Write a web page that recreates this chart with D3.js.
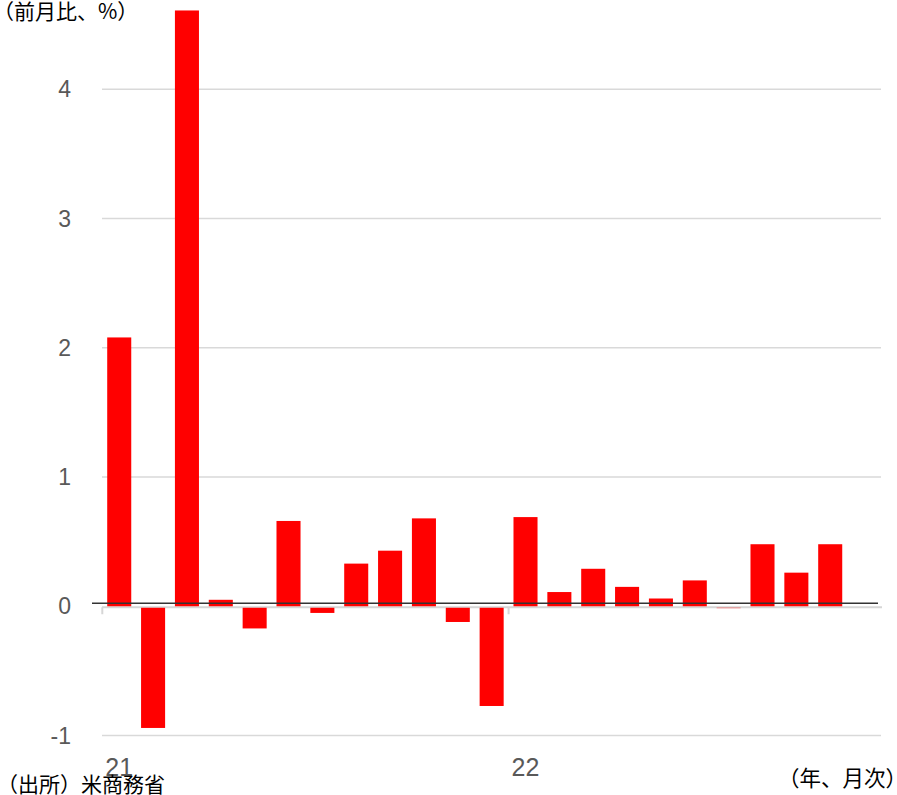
<!DOCTYPE html>
<html>
<head>
<meta charset="utf-8">
<script src="https://cdn.jsdelivr.net/npm/d3@7"></script>
<style>
  body { margin: 0; background: #fff; }
  svg { display: block; }
</style>
</head>
<body>
<svg id="chart"></svg>
<script>
// 月次カテゴリ (2021年1月〜2022年11月)
let months = ["2021-01","2021-02","2021-03","2021-04","2021-05","2021-06","2021-07","2021-08","2021-09","2021-10","2021-11","2021-12",
              "2022-01","2022-02","2022-03","2022-04","2022-05","2022-06","2022-07","2022-08","2022-09","2022-10","2022-11"];
// 前月比 (%)
let values = [2.08, -0.93, 4.61, 0.05, -0.16, 0.66, -0.04, 0.33, 0.43, 0.68, -0.11, -0.76,
              0.69, 0.11, 0.29, 0.15, 0.06, 0.20, -0.003, 0.48, 0.26, 0.48, null];
// 目盛り
let yTicks = [-1, 0, 1, 2, 3, 4];
let yearTicks = ["2021-01", "2022-01"];
let yearLabels = ["21", "22"];

let width = 897, height = 795;
let jpFont = "'Noto Sans CJK JP', 'Noto Sans', sans-serif";
let numFont = "'Liberation Sans', Arial, sans-serif";

let svg = d3.select("#chart")
    .attr("width", width)
    .attr("height", height);

let x = d3.scaleBand()
    .domain(months)
    .range([102.3, 881])
    .paddingInner(0.29)
    .paddingOuter(0.145);

let y = d3.scaleLinear()
    .domain([-1, 4])
    .range([735.5, 89.3]);

// グリッド線
svg.append("g")
    .selectAll("line")
    .data(yTicks.filter(d => d !== 0))
    .enter().append("line")
    .attr("x1", 102).attr("x2", 881)
    .attr("y1", d => y(d)).attr("y2", d => y(d))
    .attr("stroke", "#d9d9d9")
    .attr("stroke-width", 1.5);

// y軸ラベル
svg.append("g")
    .selectAll("text")
    .data(yTicks)
    .enter().append("text")
    .attr("x", 71)
    .attr("y", d => y(d))
    .attr("dy", "0.35em")
    .attr("text-anchor", "end")
    .attr("font-family", numFont)
    .attr("font-size", 23)
    .attr("fill", "#595959")
    .text(d => d);

// x軸 (0の位置)
svg.append("line")
    .attr("x1", 102).attr("x2", 882)
    .attr("y1", y(0) + 1).attr("y2", y(0) + 1)
    .attr("stroke", "#d6d6d6")
    .attr("stroke-width", 2);

// 年の区切り目盛り
svg.append("g")
    .selectAll("line")
    .data(yearTicks)
    .enter().append("line")
    .attr("x1", d => x(d) - x.step() * x.paddingOuter())
    .attr("x2", d => x(d) - x.step() * x.paddingOuter())
    .attr("y1", y(0) + 1)
    .attr("y2", y(0) + 8)
    .attr("stroke", "#d6d6d6")
    .attr("stroke-width", 2);

// 棒
svg.append("g")
    .selectAll("rect")
    .data(months.map((m, i) => ({ m: m, v: values[i] })).filter(d => d.v !== null))
    .enter().append("rect")
    .attr("x", d => x(d.m))
    .attr("width", x.bandwidth())
    .attr("y", d => d.v >= 0 ? y(d.v) : y(0) + 1.5)
    .attr("height", d => Math.abs(y(d.v) - y(0)))
    .attr("fill", "#ff0000");

// 0の基準線
svg.append("line")
    .attr("x1", 92).attr("x2", 878)
    .attr("y1", y(0) - 3).attr("y2", y(0) - 3)
    .attr("stroke", "#333")
    .attr("stroke-width", 1.5);

// x軸ラベル
svg.append("g")
    .selectAll("text")
    .data(yearTicks)
    .enter().append("text")
    .attr("x", d => x(d) - x.step() * x.paddingOuter() + 3)
    .attr("y", 776)
    .attr("font-family", numFont)
    .attr("font-size", 25)
    .attr("fill", "#595959")
    .text((d, i) => yearLabels[i]);

// タイトル・注記
svg.append("text")
    .attr("x", -7).attr("y", 19)
    .attr("font-family", jpFont)
    .attr("font-size", 21)
    .attr("fill", "#000")
    .text("（前月比、%）");

svg.append("text")
    .attr("x", -3).attr("y", 792)
    .attr("font-family", jpFont)
    .attr("font-size", 21)
    .attr("fill", "#000")
    .text("（出所）米商務省");

svg.append("text")
    .attr("x", 907).attr("y", 786)
    .attr("text-anchor", "end")
    .attr("font-family", jpFont)
    .attr("font-size", 21.5)
    .attr("fill", "#000")
    .text("（年、月次）");
</script>
</body>
</html>
